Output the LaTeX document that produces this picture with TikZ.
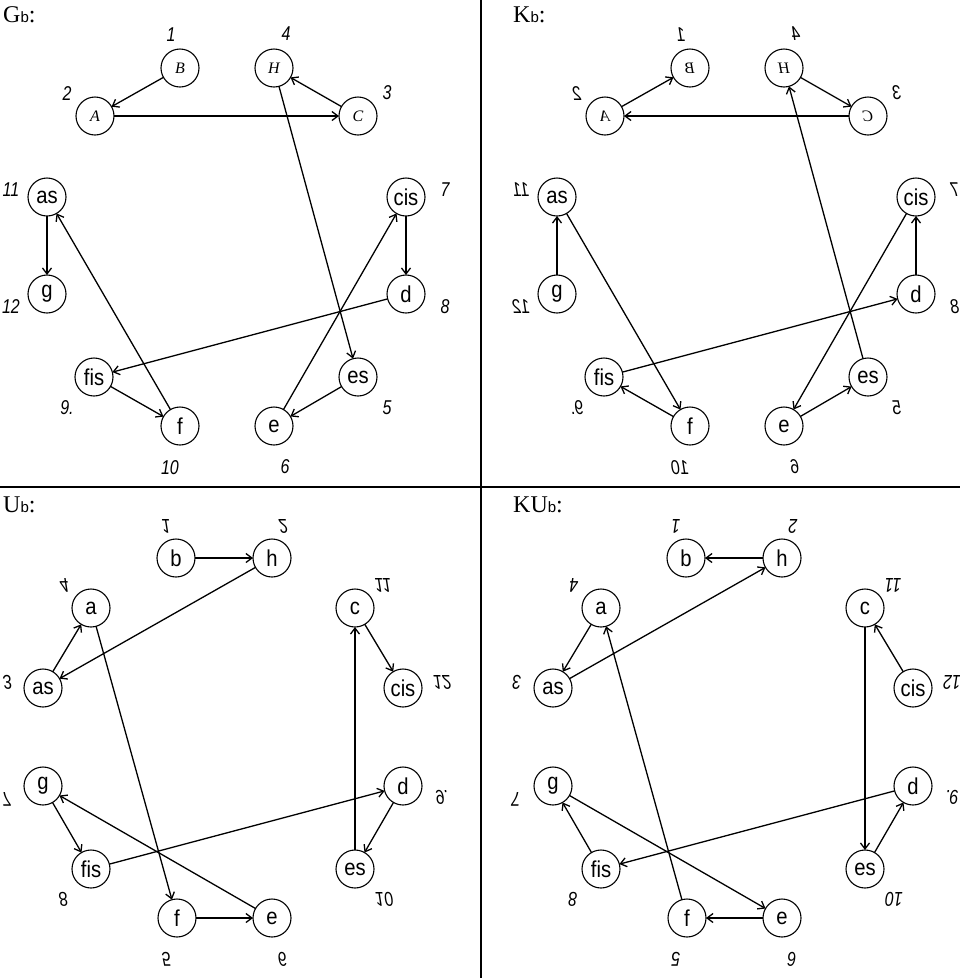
\documentclass[tikz,border=0pt]{standalone}
\usepackage{fontspec}
\setmainfont{Liberation Serif}
\setsansfont{Liberation Sans}
\newfontfamily\labfont[FakeStretch=0.8]{Liberation Sans}
\newfontfamily\vtxfont[FakeStretch=0.88]{Liberation Sans}
\usetikzlibrary{arrows.meta}

\newcommand\tfN[1]{#1}
\newcommand\tfM[1]{\scalebox{-1}[1]{#1}}
\newcommand\tfV[1]{\scalebox{1}[-1]{#1}}
\newcommand\tfR[1]{\rotatebox[origin=c]{180}{#1}}

\tikzset{
  vtx/.style={circle, draw, line width=1.1pt, minimum size=38pt, inner sep=0pt, outer sep=0pt,
    font=\vtxfont\fontsize{23}{23}\selectfont},
  uvtx/.style={vtx, font=\rmfamily\itshape\fontsize{16}{16}\selectfont},
  lab/.style={inner sep=0pt, font=\labfont\itshape\fontsize{20}{20}\selectfont},
  arr/.style={line width=1.3pt, -{Straight Barb[length=6pt,width=9pt,line width=1.3pt]}},
  ttl/.style={anchor=base west, inner sep=0pt, font=\rmfamily\fontsize{24}{24}\selectfont},
  sep/.style={line width=1.8pt}
}

% top quadrants: #1 prefix, #2 x shift, #3 transform
\newcommand\TopSet[3]{%
\begin{scope}[shift={(#2,0)}]
  \node[uvtx] (#1B) at (180,68) {#3{B}};
  \node[uvtx] (#1H) at (274,68) {#3{H}};
  \node[uvtx] (#1A) at (95,116) {#3{A}};
  \node[uvtx] (#1C) at (358,116) {#3{C}};
  \node[vtx] (#1as) at (47,197) {as};
  \node[vtx] (#1cis) at (406,197) {cis};
  \node[vtx] (#1g) at (47,294) {g};
  \node[vtx] (#1d) at (406,294) {d};
  \node[vtx] (#1fis) at (94,377) {fis};
  \node[vtx] (#1es) at (358,377) {es};
  \node[vtx] (#1f) at (180,426) {f};
  \node[vtx] (#1e) at (274,426) {e};
  \node[lab] (#1l1) at (171,35) {#3{1}};
  \node[lab] (#1l4) at (286,34) {#3{4}};
  \node[lab] (#1l2) at (67,94) {#3{2}};
  \node[lab] (#1l3) at (387,93) {#3{3}};
  \node[lab] (#1l11) at (11,190) {#3{11}};
  \node[lab] (#1l7) at (445,190) {#3{7}};
  \node[lab] (#1l12) at (11,307) {#3{12}};
  \node[lab] (#1l8) at (445,307) {#3{8}};
  \node[lab] (#1l9) at (67,408) {#3{9.}};
  \node[lab] (#1l5) at (387,408) {#3{5}};
  \node[lab] (#1l10) at (170,468) {#3{10}};
  \node[lab] (#1l6) at (285,467) {#3{6}};
\end{scope}}

% bottom quadrants
\newcommand\BotSet[3]{%
\begin{scope}[shift={(#2,0)}]
  \node[vtx] (#1b) at (176,558) {b};
  \node[vtx] (#1h) at (272,558) {h};
  \node[vtx] (#1a) at (91,608) {a};
  \node[vtx] (#1c) at (355,608) {c};
  \node[vtx] (#1as) at (43,688) {as};
  \node[vtx] (#1cis) at (403,688) {cis};
  \node[vtx] (#1g) at (43,786) {g};
  \node[vtx] (#1d) at (403,786) {d};
  \node[vtx] (#1fis) at (91,869) {fis};
  \node[vtx] (#1es) at (355,869) {es};
  \node[vtx] (#1f) at (177,918) {f};
  \node[vtx] (#1e) at (272,918) {e};
  \node[lab] (#1l1) at (166,526) {#3{1}};
  \node[lab] (#1l2) at (283,526) {#3{2}};
  \node[lab] (#1l4) at (64,585) {#3{4}};
  \node[lab] (#1l3) at (7,682) {#3{3}};
  \node[lab] (#1l11) at (383,585) {#3{11}};
  \node[lab] (#1l12) at (442,682) {#3{12}};
  \node[lab] (#1l7) at (6,799) {#3{7}};
  \node[lab] (#1l9) at (442,797) {#3{9.}};
  \node[lab] (#1l8) at (63,899) {#3{8}};
  \node[lab] (#1l10) at (384,899) {#3{10}};
  \node[lab] (#1l5) at (166,959) {#3{5}};
  \node[lab] (#1l6) at (282,959) {#3{6}};
\end{scope}}

\begin{document}
\begin{tikzpicture}[x=1pt,y=-1pt]
\useasboundingbox (0,0) rectangle (960,978);
\fill[white] (0,0) rectangle (960,978);

% separators
\coordinate (vt) at (481,0);
\coordinate (vb) at (481,978);
\coordinate (hl) at (0,487);
\coordinate (hr) at (960,487);
\draw[sep] (vt) -- (vb);
\draw[sep] (hl) -- (hr);

% titles
\node[ttl] (tG) at (3,22) {G{\sffamily\fontsize{15}{15}\selectfont b}:};
\node[ttl] (tK) at (513,22) {K{\sffamily\fontsize{15}{15}\selectfont b}:};
\node[ttl] (tU) at (3,512) {U{\sffamily\fontsize{15}{15}\selectfont b}:};
\node[ttl] (tKU) at (513,512) {KU{\sffamily\fontsize{15}{15}\selectfont b}:};

\TopSet{g}{0}{\tfN}
\TopSet{k}{510}{\tfM}
\BotSet{u}{0}{\tfV}
\BotSet{r}{510}{\tfR}

% G_b edges
\draw[arr] (gB) -- (gA);
\draw[arr] (gA) -- (gC);
\draw[arr] (gC) -- (gH);
\draw[arr] (gH) -- (ges);
\draw[arr] (gas) -- (gg);
\draw[arr] (gf) -- (gas);
\draw[arr] (gcis) -- (gd);
\draw[arr] (gd) -- (gfis);
\draw[arr] (gfis) -- (gf);
\draw[arr] (ge) -- (gcis);
\draw[arr] (ges) -- (ge);

% K_b edges
\draw[arr] (kA) -- (kB);
\draw[arr] (kH) -- (kC);
\draw[arr] (kC) -- (kA);
\draw[arr] (kes) -- (kH);
\draw[arr] (kg) -- (kas);
\draw[arr] (kas) -- (kf);
\draw[arr] (kd) -- (kcis);
\draw[arr] (kfis) -- (kd);
\draw[arr] (kf) -- (kfis);
\draw[arr] (kcis) -- (ke);
\draw[arr] (ke) -- (kes);

% U_b edges
\draw[arr] (ub) -- (uh);
\draw[arr] (uh) -- (uas);
\draw[arr] (uas) -- (ua);
\draw[arr] (ua) -- (uf);
\draw[arr] (uc) -- (ucis);
\draw[arr] (ues) -- (uc);
\draw[arr] (ug) -- (ufis);
\draw[arr] (ue) -- (ug);
\draw[arr] (ufis) -- (ud);
\draw[arr] (ud) -- (ues);
\draw[arr] (uf) -- (ue);

% KU_b edges
\draw[arr] (rh) -- (rb);
\draw[arr] (ras) -- (rh);
\draw[arr] (ra) -- (ras);
\draw[arr] (rf) -- (ra);
\draw[arr] (rcis) -- (rc);
\draw[arr] (rc) -- (res);
\draw[arr] (rfis) -- (rg);
\draw[arr] (rg) -- (re);
\draw[arr] (rd) -- (rfis);
\draw[arr] (res) -- (rd);
\draw[arr] (re) -- (rf);
\end{tikzpicture}
\end{document}
